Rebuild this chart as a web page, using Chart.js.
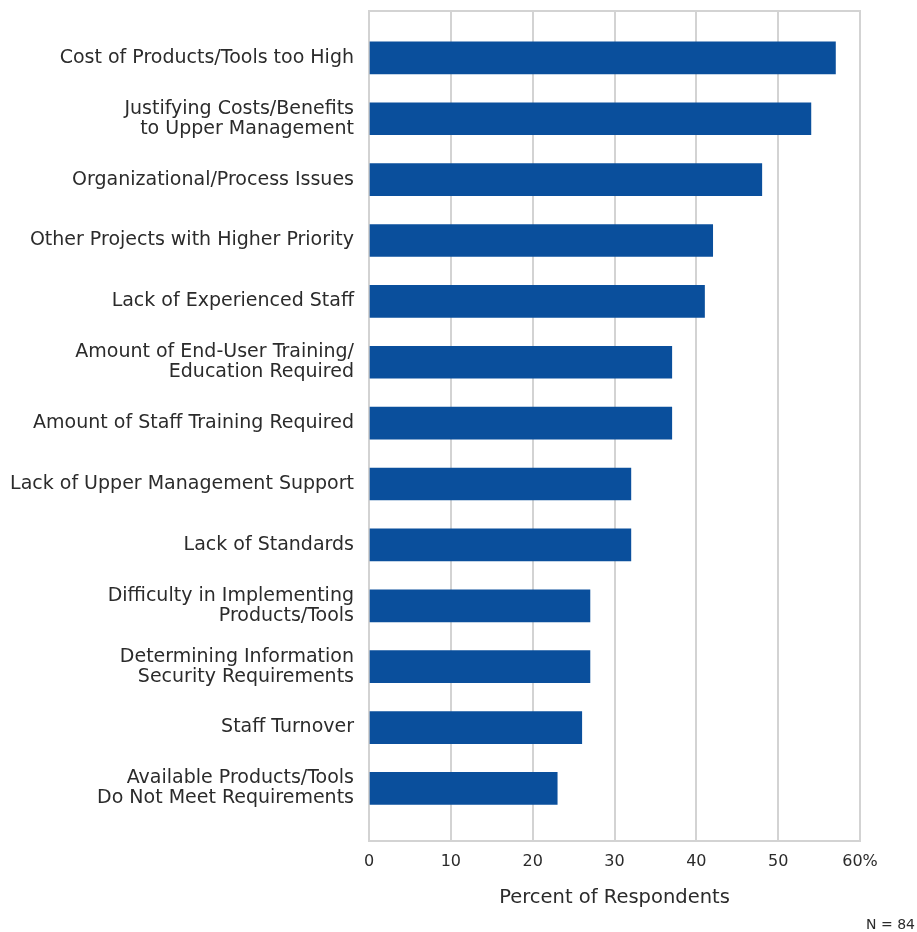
<!DOCTYPE html>
<html>
<head>
<meta charset="utf-8">
<script src="https://cdn.jsdelivr.net/npm/chart.js@4.4.1/dist/chart.umd.min.js"></script>
<style>
  body { margin: 0; background: #fff; }
  canvas { display: block; }
</style>
</head>
<body>
<canvas id="cv-barriers" width="917" height="932"></canvas>
<script>
const categories = [
    'Cost of Products/Tools too High',
    ['Justifying Costs/Benefits', 'to Upper Management'],
    'Organizational/Process Issues',
    'Other Projects with Higher Priority',
    'Lack of Experienced Staff',
    ['Amount of End-User Training/', 'Education Required'],
    'Amount of Staff Training Required',
    'Lack of Upper Management Support',
    'Lack of Standards',
    ['Difficulty in Implementing', 'Products/Tools'],
    ['Determining Information', 'Security Requirements'],
    'Staff Turnover',
    ['Available Products/Tools', 'Do Not Meet Requirements']
];
const percents = [57, 54, 48, 42, 41, 37, 37, 32, 32, 27, 27, 26, 23];
const xTicks = [0, 10, 20, 30, 40, 50, 60];

const gridGray = '#d3d3d3';
const textColor = '#2b2b2b';
const fontFamily = '"DejaVu Sans", sans-serif';

const barriersChart = new Chart(document.getElementById('cv-barriers'), {
    type: 'bar',
    data: {
        datasets: [{
            data: percents.map((v, i) => ({ x: v, y: i })),
            xAxisID: 'x',
            yAxisID: 'y',
            backgroundColor: '#0a4f9c',
            borderWidth: 0,
            barThickness: 32
        }]
    },
    options: {
        indexAxis: 'y',
        responsive: false,
        animation: false,
        layout: { padding: { top: 11, right: 2, bottom: 0, left: 0 } },
        plugins: {
            legend: { display: false },
            tooltip: { enabled: false },
            title: {
                display: true,
                text: 'N = 84',
                position: 'bottom',
                align: 'end',
                color: textColor,
                font: { family: fontFamily, size: 14, weight: 'normal', lineHeight: 1 },
                padding: { top: 0, bottom: 0 }
            }
        },
        scales: {
            x: {
                type: 'linear',
                min: 0,
                max: 60,
                afterBuildTicks: s => { s.ticks = xTicks.map(v => ({ value: v })); },
                ticks: {
                    padding: 11,
                    color: textColor,
                    font: { family: fontFamily, size: 16 },
                    callback: v => v === 60 ? '60%' : String(v)
                },
                grid: { color: gridGray, lineWidth: 2, drawTicks: false },
                border: { color: gridGray, width: 2 },
                title: {
                    display: true,
                    text: 'Percent of Respondents',
                    color: textColor,
                    font: { family: fontFamily, size: 19.5 },
                    padding: { top: 4, bottom: 8 }
                }
            },
            y: {
                type: 'linear',
                reverse: true,
                offset: false,
                min: -0.77,
                max: 12.87,
                afterBuildTicks: s => { s.ticks = categories.map((c, i) => ({ value: i })); },
                afterFit: s => {
                    s.width = 369;
                    s.paddingTop = 0;
                    s.paddingBottom = 0;
                },
                ticks: {
                    padding: 15,
                    color: textColor,
                    font: { family: fontFamily, size: 19, lineHeight: 1.06 },
                    callback: v => categories[v]
                },
                grid: { display: false, drawTicks: false },
                border: { color: gridGray, width: 2 }
            },
            xTop: {
                type: 'linear',
                position: 'top',
                min: 0,
                max: 60,
                afterFit: s => { s.height = 0; },
                ticks: { display: false },
                grid: { display: false },
                border: { color: gridGray, width: 2 }
            },
            // empty strip on the right so the plot ends at 60% while the note runs to the edge
            yRight: {
                type: 'linear',
                position: 'right',
                afterFit: s => {
                    s.width = 55;
                    s.paddingTop = 0;
                    s.paddingBottom = 0;
                },
                ticks: { display: false },
                grid: { display: false },
                border: { display: false }
            }
        }
    }
});
</script>
</body>
</html>
